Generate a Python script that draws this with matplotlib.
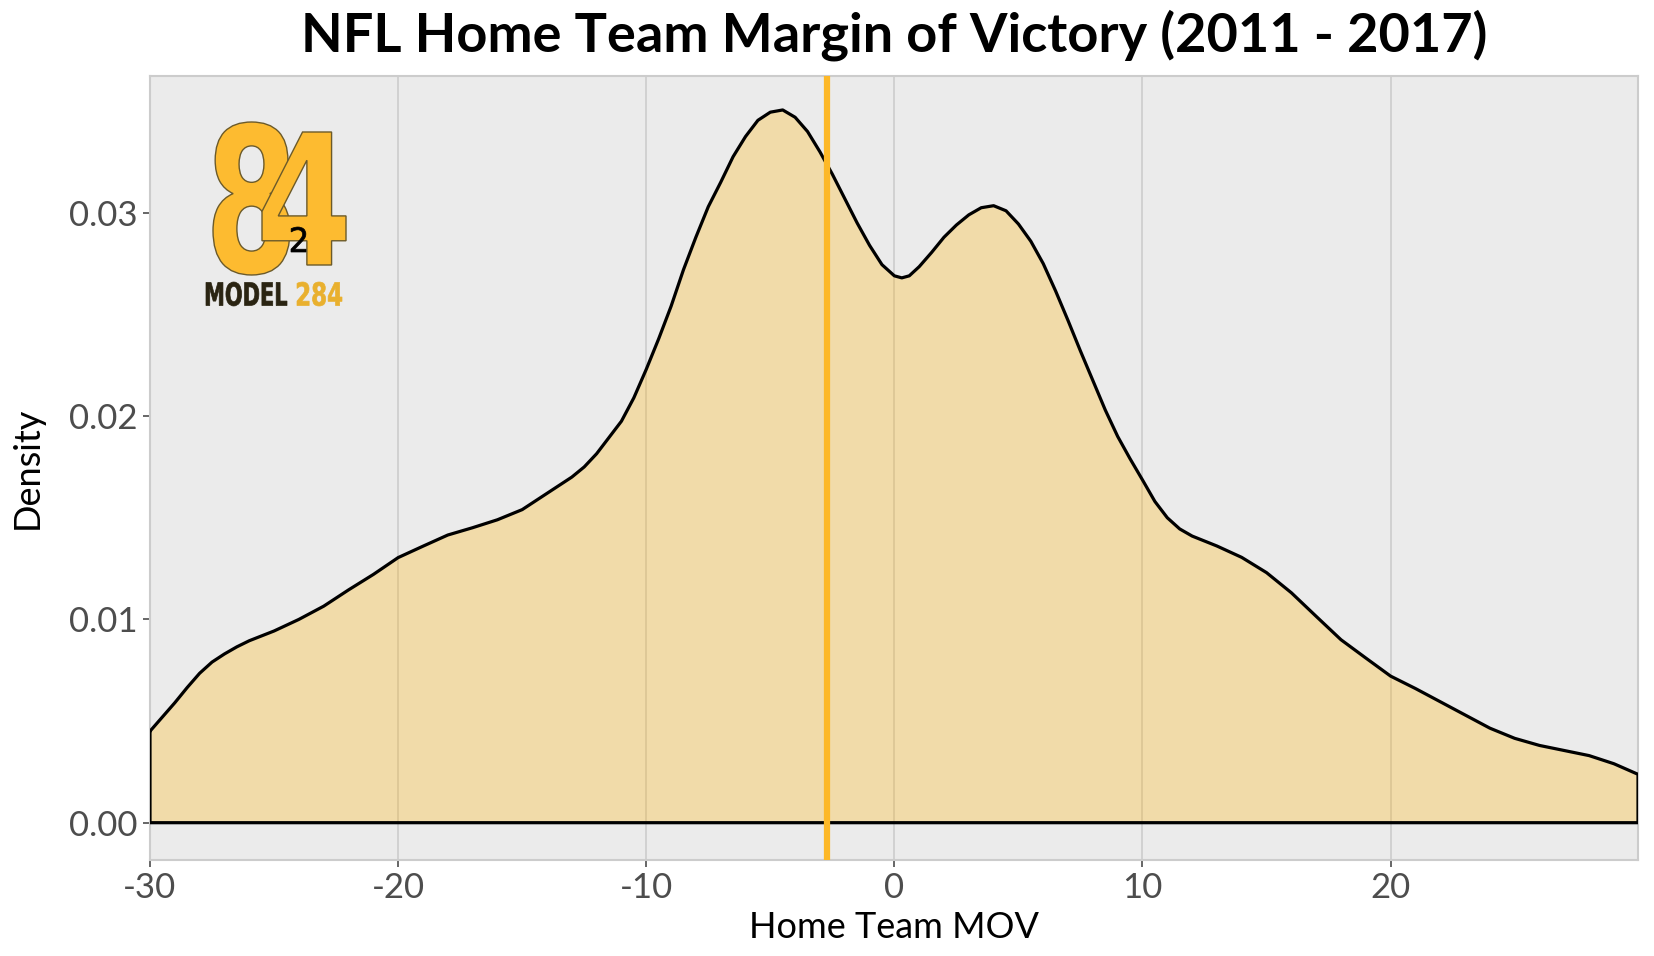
import numpy as np
import matplotlib.pyplot as plt
from matplotlib.textpath import TextPath
from matplotlib.patches import PathPatch
from matplotlib.font_manager import FontProperties
from matplotlib.transforms import Affine2D, IdentityTransform

# density curve
mov = [-30, -29.5, -29, -28.5, -28, -27.5, -27, -26.5, -26, -25, -24, -23, -22, -21,
       -20, -19, -18, -17, -16, -15, -14, -13, -12.5, -12, -11.5, -11, -10.5, -10, -9.5,
       -9, -8.5, -8, -7.5, -7, -6.5, -6, -5.5, -5, -4.5, -4, -3.5, -3, -2.5, -2,
       -1.5, -1, -0.5, 0, 0.3, 0.6, 1, 1.5, 2, 2.5, 3, 3.5, 4, 4.5, 5, 5.5, 6, 6.5, 7,
       7.5, 8, 8.5, 9, 9.5, 10, 10.5, 11, 11.5, 12, 13, 14, 15, 16, 17, 18, 19,
       20, 21, 22, 23, 24, 25, 26, 27, 28, 29, 29.97]
density = [0.00450, 0.00520, 0.00590, 0.00665, 0.00735, 0.00790, 0.00830, 0.00865,
           0.00895, 0.00943, 0.01000, 0.01065, 0.01145, 0.01221, 0.01304, 0.01360,
           0.01415, 0.01451, 0.01490, 0.01540, 0.01620, 0.01700, 0.01750, 0.01815, 0.01895,
           0.01975, 0.02090, 0.02230, 0.02380, 0.02540, 0.02720, 0.02880, 0.03030,
           0.03150, 0.03276, 0.03375, 0.03455, 0.03495, 0.03506, 0.03470, 0.03400,
           0.03300, 0.03190, 0.03070, 0.02950, 0.02840, 0.02745, 0.02690, 0.02680,
           0.02690, 0.02735, 0.02805, 0.02880, 0.02940, 0.02990, 0.03025, 0.03035, 0.03010,
           0.02945, 0.02860, 0.02750, 0.02615, 0.02470, 0.02320, 0.02175, 0.02030,
           0.01900, 0.01790, 0.01686, 0.01580, 0.01500, 0.01445, 0.01410, 0.01361,
           0.01305, 0.01230, 0.01131, 0.01015, 0.00900, 0.00810, 0.00721, 0.00660,
           0.00595, 0.00530, 0.00465, 0.00415, 0.00380, 0.00355, 0.00330, 0.00290,
           0.00238]
mean_mov = -2.73

x_ticks = [-30, -20, -10, 0, 10, 20]
y_ticks = [0.0, 0.01, 0.02, 0.03]
y_labels = ['0.00', '0.01', '0.02', '0.03']

gold = '#FDB827'
plt.rcParams['font.family'] = ['Lato', 'DejaVu Sans']

fig = plt.figure(figsize=(16.54, 9.56), dpi=100)
ax = fig.add_axes([150/1654, 1-860/956, 1488/1654, 784/956])
ax.set_facecolor('#EBEBEB')

ax.fill_between(mov, density, 0, color='#FFB612', alpha=0.3, lw=0, zorder=2)
ax.plot(mov + [mov[-1], mov[0], mov[0]], density + [0, 0, density[0]],
        color='black', lw=2.3, zorder=3, solid_joinstyle='round')
ax.axvline(mean_mov, color=gold, lw=4.5, zorder=4)

ax.set_xlim(-30, 29.97)
ax.set_ylim(-0.001835, 0.03673)
ax.set_xticks(x_ticks)
ax.set_xticklabels([str(t) for t in x_ticks])
ax.set_yticks(y_ticks)
ax.set_yticklabels(y_labels)
ax.grid(axis='x', color='#CFCFCF', lw=1.3)
ax.set_axisbelow(True)
for s in ax.spines.values():
    s.set_color('#CCCCCC')
    s.set_linewidth(1.5)
ax.tick_params(length=5, width=1.2, color='#4D4D4D', labelcolor='#4D4D4D',
               labelsize=25, pad=4)

ax.set_xlabel('Home Team MOV', fontsize=26, labelpad=5)
ax.set_ylabel('Density', fontsize=26, labelpad=18)
fig.text(894/1654, 1-35/956, 'NFL Home Team Margin of Victory (2011 - 2017)',
         ha='center', va='center', fontsize=39, fontweight='bold')


# logo, placed in pixel boxes (x0, top, x1, bottom)
def put_text(s, box, face, edge, weight='bold', lw=1.0):
    tp = TextPath((0, 0), s, size=1, prop=FontProperties(family='DejaVu Sans', weight=weight))
    ext = tp.get_extents()
    x0, top, x1, bot = box
    tr = (Affine2D().translate(-ext.x0, -ext.y0)
          .scale((x1-x0)/ext.width, (bot-top)/ext.height)
          .translate(x0, 956-bot))
    p = PathPatch(tr.transform_path(tp), facecolor=face, edgecolor=edge, lw=lw,
                  transform=IdentityTransform(), zorder=10)
    fig.add_artist(p)


put_text('8', (213, 122, 290, 275), '#FDBB30', '#6b5a2a')
put_text('4', (262, 132, 346, 265), '#FDBB30', '#6b5a2a')
put_text('2', (291, 227, 306, 252), 'black', 'black', weight='normal', lw=0.5)
put_text('MODEL', (206, 282, 287, 306), '#2a2412', '#2a2412', lw=0.5)
put_text('284', (297, 282, 342, 306), '#E9B02E', '#E9B02E', lw=0.5)

fig.savefig('out.png', dpi=100)
